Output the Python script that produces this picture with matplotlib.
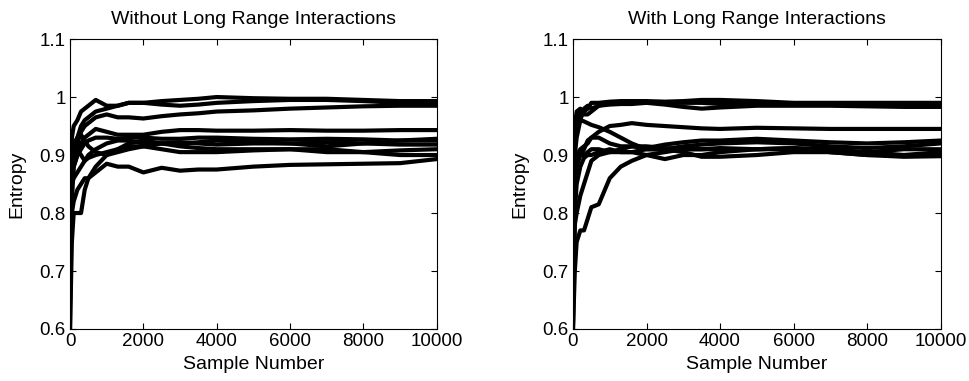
import matplotlib
matplotlib.use("Agg")
import matplotlib.pyplot as plt

plt.rcParams['font.family'] = ['Liberation Sans', 'DejaVu Sans']

samples = [0, 50, 100, 200, 300, 400, 500, 700, 1000, 1300, 1600, 2000,
           2500, 3000, 3500, 4000, 5000, 6000, 7000, 8000, 9000, 10000]

# without long range interactions
without_lr = [
    [0.60, 0.93, 0.95, 0.96, 0.975, 0.98, 0.985, 0.995, 0.985, 0.985, 0.99, 0.99, 0.993, 0.995, 0.997, 1.0, 0.998, 0.997, 0.997, 0.995, 0.993, 0.993],
    [0.80, 0.85, 0.90, 0.93, 0.95, 0.96, 0.965, 0.975, 0.98, 0.985, 0.99, 0.99, 0.987, 0.985, 0.987, 0.99, 0.993, 0.995, 0.995, 0.993, 0.99, 0.988],
    [0.75, 0.85, 0.90, 0.92, 0.94, 0.95, 0.955, 0.965, 0.97, 0.965, 0.965, 0.963, 0.967, 0.97, 0.972, 0.975, 0.977, 0.98, 0.982, 0.984, 0.985, 0.985],
    [0.65, 0.85, 0.88, 0.90, 0.92, 0.93, 0.935, 0.945, 0.94, 0.935, 0.935, 0.935, 0.94, 0.943, 0.943, 0.942, 0.942, 0.943, 0.942, 0.942, 0.943, 0.943],
    [0.70, 0.82, 0.88, 0.90, 0.91, 0.92, 0.925, 0.93, 0.93, 0.928, 0.93, 0.93, 0.928, 0.928, 0.93, 0.93, 0.928, 0.927, 0.928, 0.927, 0.925, 0.925],
    [0.80, 0.85, 0.86, 0.87, 0.88, 0.89, 0.90, 0.91, 0.92, 0.925, 0.925, 0.92, 0.92, 0.922, 0.92, 0.918, 0.92, 0.92, 0.922, 0.92, 0.918, 0.918],
    [0.60, 0.75, 0.80, 0.80, 0.80, 0.84, 0.86, 0.88, 0.90, 0.91, 0.92, 0.925, 0.92, 0.915, 0.912, 0.91, 0.91, 0.91, 0.905, 0.905, 0.908, 0.91],
    [0.85, 0.88, 0.90, 0.91, 0.90, 0.89, 0.895, 0.90, 0.905, 0.91, 0.915, 0.915, 0.91, 0.905, 0.905, 0.905, 0.908, 0.91, 0.91, 0.905, 0.90, 0.90],
    [0.70, 0.80, 0.82, 0.84, 0.85, 0.86, 0.86, 0.87, 0.885, 0.88, 0.88, 0.87, 0.878, 0.873, 0.875, 0.875, 0.88, 0.883, 0.884, 0.885, 0.886, 0.893],
    [0.90, 0.91, 0.92, 0.93, 0.935, 0.925, 0.915, 0.905, 0.90, 0.905, 0.91, 0.915, 0.92, 0.92, 0.922, 0.925, 0.922, 0.92, 0.915, 0.92, 0.925, 0.928],
]

# with long range interactions
with_lr = [
    [0.60, 0.95, 0.975, 0.98, 0.975, 0.98, 0.99, 0.99, 0.992, 0.993, 0.993, 0.993, 0.992, 0.993, 0.995, 0.995, 0.993, 0.99, 0.99, 0.99, 0.99, 0.99],
    [0.70, 0.93, 0.96, 0.975, 0.97, 0.97, 0.975, 0.985, 0.99, 0.99, 0.99, 0.99, 0.987, 0.983, 0.98, 0.982, 0.985, 0.985, 0.985, 0.984, 0.983, 0.983],
    [0.75, 0.90, 0.93, 0.96, 0.98, 0.985, 0.98, 0.985, 0.987, 0.988, 0.988, 0.99, 0.99, 0.99, 0.99, 0.988, 0.99, 0.988, 0.987, 0.988, 0.988, 0.987],
    [0.80, 0.88, 0.90, 0.91, 0.915, 0.92, 0.93, 0.94, 0.95, 0.952, 0.955, 0.952, 0.95, 0.948, 0.946, 0.945, 0.947, 0.946, 0.945, 0.945, 0.945, 0.945],
    [0.85, 0.93, 0.95, 0.96, 0.958, 0.955, 0.952, 0.948, 0.94, 0.93, 0.92, 0.91, 0.91, 0.915, 0.918, 0.92, 0.922, 0.92, 0.915, 0.912, 0.915, 0.92],
    [0.65, 0.85, 0.88, 0.90, 0.91, 0.925, 0.93, 0.93, 0.92, 0.915, 0.915, 0.912, 0.918, 0.922, 0.925, 0.925, 0.928, 0.925, 0.922, 0.92, 0.922, 0.925],
    [0.70, 0.86, 0.89, 0.90, 0.90, 0.905, 0.91, 0.91, 0.905, 0.905, 0.905, 0.90, 0.893, 0.90, 0.90, 0.905, 0.91, 0.912, 0.91, 0.905, 0.90, 0.905],
    [0.60, 0.80, 0.85, 0.88, 0.895, 0.90, 0.90, 0.905, 0.91, 0.905, 0.905, 0.91, 0.91, 0.905, 0.897, 0.897, 0.90, 0.905, 0.905, 0.90, 0.90, 0.90],
    [0.60, 0.70, 0.75, 0.77, 0.77, 0.79, 0.81, 0.815, 0.86, 0.88, 0.89, 0.90, 0.905, 0.91, 0.91, 0.912, 0.91, 0.91, 0.905, 0.905, 0.91, 0.91],
    [0.65, 0.78, 0.80, 0.83, 0.85, 0.87, 0.89, 0.90, 0.905, 0.91, 0.915, 0.915, 0.912, 0.91, 0.91, 0.91, 0.91, 0.912, 0.905, 0.90, 0.897, 0.898],
]

titles = ["Without Long Range Interactions", "With Long Range Interactions"]
x_ticks = [0, 2000, 4000, 6000, 8000, 10000]
y_ticks = [0.6, 0.7, 0.8, 0.9, 1.0, 1.1]
y_tick_labels = ["0.6", "0.7", "0.8", "0.9", "1", "1.1"]


def draw_panel(ax, traces, title):
    for tr in traces:
        ax.plot(samples, tr, color="black", linewidth=3.0, solid_joinstyle="round")
    ax.set_xlim(0, 10000)
    ax.set_ylim(0.6, 1.1)
    ax.set_xticks(x_ticks)
    ax.set_yticks(y_ticks)
    ax.set_yticklabels(y_tick_labels)
    ax.tick_params(direction="in", length=4, top=True, right=True, labelsize=13.5, pad=3)
    for sp in ax.spines.values():
        sp.set_linewidth(0.8)
    ax.set_title(title, fontsize=14, pad=11)
    ax.set_xlabel("Sample Number", fontsize=14, labelpad=4)
    ax.set_ylabel("Entropy", fontsize=14, labelpad=10)


fig = plt.figure(figsize=(9.7, 3.81), dpi=100)
ax1 = fig.add_axes([0.0722, 0.1365, 0.378, 0.761])
ax2 = fig.add_axes([0.5907, 0.1365, 0.379, 0.761])
draw_panel(ax1, without_lr, titles[0])
draw_panel(ax2, with_lr, titles[1])

fig.savefig("out.png", dpi=100)
